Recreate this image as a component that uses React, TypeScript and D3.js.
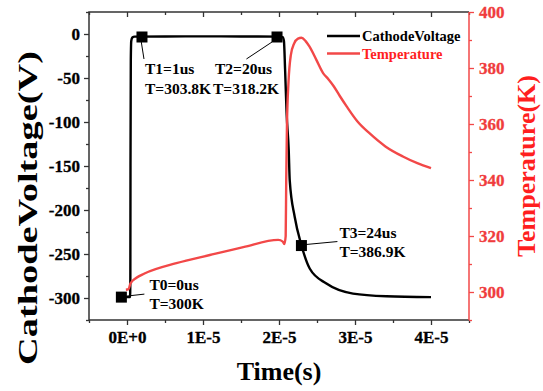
import React, { useEffect, useRef } from "react";
import * as d3 from "d3";

// time in microseconds
const voltTime = [-0.74, 0.4, 0.44, 0.46, 0.5, 0.56, 0.7, 1.0, 5, 10, 15, 20, 20.5, 20.65, 20.8, 21.0, 21.28, 21.41, 22.07, 22.95, 24.04, 26.24, 29.74, 34.13, 40.0];
const voltValue = [-299, -299, -280, -150, -30, -8, -4, -3, -2.8, -2.7, -2.8, -3, -3.5, -8, -40, -90, -132, -166, -208, -240, -266.5, -283.6, -295, -298, -299];

const tempTime = [-0.15, 0.2, 0.45, 1.2, 2.3, 6.5, 10.9, 15.3, 19.9, 20.5, 20.7, 20.88, 20.95, 21.05, 21.25, 21.55, 22.0, 22.5, 22.95, 23.5, 24.0, 24.9, 25.8, 26.5, 27.2, 28.0, 28.9, 30.3, 31.9, 34.0, 36.3, 38.2, 40.0];
const tempValue = [300.8, 301, 303, 305, 306.6, 310.3, 313.2, 316, 318.6, 318.0, 317.1, 320, 340, 360, 375, 384.5, 388.8, 390.5, 390.8, 389.6, 387.7, 383, 378.2, 376, 373.5, 370, 366.3, 361, 356.7, 352, 348.4, 346, 344.2];

const markTime = [-0.74, 1.97, 19.74, 22.95];
const markVolt = [-299, -3.4, -3.4, -240.4];
const markName = ["T0=0us", "T1=1us", "T2=20us", "T3=24us"];
const markTemp = ["T=300K", "T=303.8K", "T=318.2K", "T=386.9K"];

const xTicks = [0, 1e-5, 2e-5, 3e-5, 4e-5];
const vTicks = [0, -50, -100, -150, -200, -250, -300];
const tTicks = [300, 320, 340, 360, 380, 400];
const legendNames = ["CathodeVoltage", "Temperature"];

const RED = "#f24848";
const FONT = "'Liberation Serif', 'Times New Roman', serif";

// label offsets from each marker: [nameDx, nameDy, tempDx, tempDy, l1dx, l1dy, l2dx, l2dy]
const labelOffsets = [
  [28, -7, 28, 12, 5, -1, 23, -3],
  [3, 37, 3, 57, -1, 3, 2, 22],
  [-62, 37, -64, 57, -5, 5, -30.6, 22],
  [38, -8, 38, 11, 4, -1, 36, -4],
];

const App = () => {
  const ref = useRef<SVGSVGElement>(null);

  useEffect(() => {
    const width = 543;
    const height = 391;
    const margin = { top: 12, right: 74, bottom: 71, left: 89 };
    const x0 = margin.left;
    const x1 = width - margin.right;
    const y0 = margin.top;
    const y1 = height - margin.bottom;

    const svg = d3.select(ref.current);
    svg.selectAll("*").remove();
    svg.attr("width", width).attr("height", height);

    const x = d3.scaleLinear().domain([-5e-6, 4.5e-5]).range([x0, x1]);
    const yV = d3.scaleLinear().domain([-325, 25]).range([y1, y0]);
    const yT = d3.scaleLinear().domain([290, 400]).range([y1, y0]);

    const styleAxis = (g, color, textColor) => {
      g.select(".domain").remove();
      g.selectAll("line").attr("stroke", color).attr("stroke-width", 1.3);
      g.selectAll("text")
        .attr("fill", textColor)
        .style("font-family", FONT)
        .style("font-weight", "bold")
        .style("font-size", "17px")
        .attr("stroke", textColor)
        .attr("stroke-width", 0.3);
    };

    const xFmt = (d) => {
      const i = Math.round(d / 1e-5);
      return i === 0 ? "0E+0" : `${i}E-5`;
    };
    const plain = (d) => String(d);

    // minor ticks
    const xMinor = d3.range(-5e-6, 4.6e-5, 1e-5);
    const vMinor = d3.range(-325, 26, 50);
    const tMinor = d3.range(290, 395, 20);

    // bottom axis
    svg.append("g")
      .attr("transform", `translate(0,${y1})`)
      .call(d3.axisBottom(x).tickValues(xTicks).tickFormat(xFmt).tickSize(5).tickPadding(6))
      .call((g) => styleAxis(g, "#333", "#000"));
    svg.append("g")
      .attr("transform", `translate(0,${y1})`)
      .call(d3.axisBottom(x).tickValues(xMinor).tickFormat(() => "").tickSize(3))
      .call((g) => styleAxis(g, "#333", "#000"));
    // top axis (inward)
    svg.append("g")
      .attr("transform", `translate(0,${y0})`)
      .call(d3.axisBottom(x).tickValues(xTicks).tickFormat(() => "").tickSize(5))
      .call((g) => styleAxis(g, "#333", "#000"));
    svg.append("g")
      .attr("transform", `translate(0,${y0})`)
      .call(d3.axisBottom(x).tickValues(xMinor).tickFormat(() => "").tickSize(3))
      .call((g) => styleAxis(g, "#333", "#000"));

    // left axis
    svg.append("g")
      .attr("transform", `translate(${x0},0)`)
      .call(d3.axisLeft(yV).tickValues(vTicks).tickFormat(plain).tickSize(5).tickPadding(4))
      .call((g) => styleAxis(g, "#333", "#000"));
    svg.append("g")
      .attr("transform", `translate(${x0},0)`)
      .call(d3.axisLeft(yV).tickValues(vMinor).tickFormat(() => "").tickSize(3))
      .call((g) => styleAxis(g, "#333", "#000"));

    // right axis
    svg.append("g")
      .attr("transform", `translate(${x1},0)`)
      .call(d3.axisRight(yT).tickValues(tTicks).tickFormat(plain).tickSize(5).tickPadding(5))
      .call((g) => styleAxis(g, RED, "#f03c3c"));
    svg.append("g")
      .attr("transform", `translate(${x1},0)`)
      .call(d3.axisRight(yT).tickValues(tMinor).tickFormat(() => "").tickSize(3))
      .call((g) => styleAxis(g, RED, RED));

    // frame
    svg.append("path")
      .attr("d", `M${x1},${y0}H${x0}V${y1}H${x1}`)
      .attr("fill", "none")
      .attr("stroke", "#333")
      .attr("stroke-width", 1.5);
    svg.append("line")
      .attr("x1", x1).attr("x2", x1).attr("y1", y0).attr("y2", y1)
      .attr("stroke", RED)
      .attr("stroke-width", 1.5);

    // curves
    const voltData = voltTime.map((t, i) => [t * 1e-6, voltValue[i]]);
    const tempData = tempTime.map((t, i) => [t * 1e-6, tempValue[i]]);

    svg.append("path")
      .datum(voltData)
      .attr("fill", "none")
      .attr("stroke", "#000")
      .attr("stroke-width", 2.4)
      .attr("d", d3.line().x((d) => x(d[0])).y((d) => yV(d[1])).curve(d3.curveMonotoneX));

    svg.append("path")
      .datum(tempData)
      .attr("fill", "none")
      .attr("stroke", RED)
      .attr("stroke-width", 2.4)
      .attr("d", d3.line().x((d) => x(d[0])).y((d) => yT(d[1])).curve(d3.curveMonotoneX));

    // markers and annotations
    markTime.forEach((t, i) => {
      const mx = x(t * 1e-6);
      const my = yV(markVolt[i]);
      const o = labelOffsets[i];
      svg.append("line")
        .attr("x1", mx + o[4]).attr("y1", my + o[5])
        .attr("x2", mx + o[6]).attr("y2", my + o[7])
        .attr("stroke", "#000").attr("stroke-width", 1);
      svg.append("rect")
        .attr("x", mx - 5.5).attr("y", my - 5.5)
        .attr("width", 11).attr("height", 11)
        .attr("fill", "#000");
      svg.append("text")
        .attr("x", mx + o[0]).attr("y", my + o[1])
        .attr("font-family", FONT).attr("font-weight", "bold").attr("font-size", "15.5px")
        .text(markName[i]);
      svg.append("text")
        .attr("x", mx + o[2]).attr("y", my + o[3])
        .attr("font-family", FONT).attr("font-weight", "bold").attr("font-size", "15.5px")
        .text(markTemp[i]);
    });

    // legend
    const legend = svg.append("g").attr("transform", "translate(327,36)");
    legendNames.forEach((name, i) => {
      const c = i === 0 ? "#000" : "#ff1f1f";
      legend.append("line")
        .attr("x1", 0).attr("x2", 33)
        .attr("y1", i * 17.5).attr("y2", i * 17.5)
        .attr("stroke", i === 0 ? "#000" : RED).attr("stroke-width", 2.4);
      legend.append("text")
        .attr("x", 35).attr("y", i * 17.5 + 5)
        .attr("fill", c)
        .attr("font-family", FONT).attr("font-weight", "bold").attr("font-size", "14.5px")
        .text(name);
    });

    // axis titles
    svg.append("text")
      .attr("transform", `translate(${(x0 + x1) / 2},${height - 11})`)
      .attr("text-anchor", "middle")
      .attr("font-family", FONT).attr("font-weight", "bold").attr("font-size", "26px")
      .text("Time(s)");

    svg.append("text")
      .attr("transform", "translate(37,208) rotate(-90)")
      .attr("text-anchor", "middle")
      .attr("font-family", FONT).attr("font-weight", "bold").attr("font-size", "27px")
      .attr("textLength", 314)
      .attr("lengthAdjust", "spacingAndGlyphs")
      .text("CathodeVoltage(V)");

    svg.append("text")
      .attr("transform", "translate(535,166) rotate(-90)")
      .attr("text-anchor", "middle")
      .attr("fill", "#ff1f1f")
      .attr("font-family", FONT).attr("font-weight", "bold").attr("font-size", "26px")
      .text("Temperature(K)");
  }, []);

  return (
    <svg ref={ref} style={{ position: "absolute", left: 0, top: 0, background: "#fff" }}></svg>
  );
};

export default App;
